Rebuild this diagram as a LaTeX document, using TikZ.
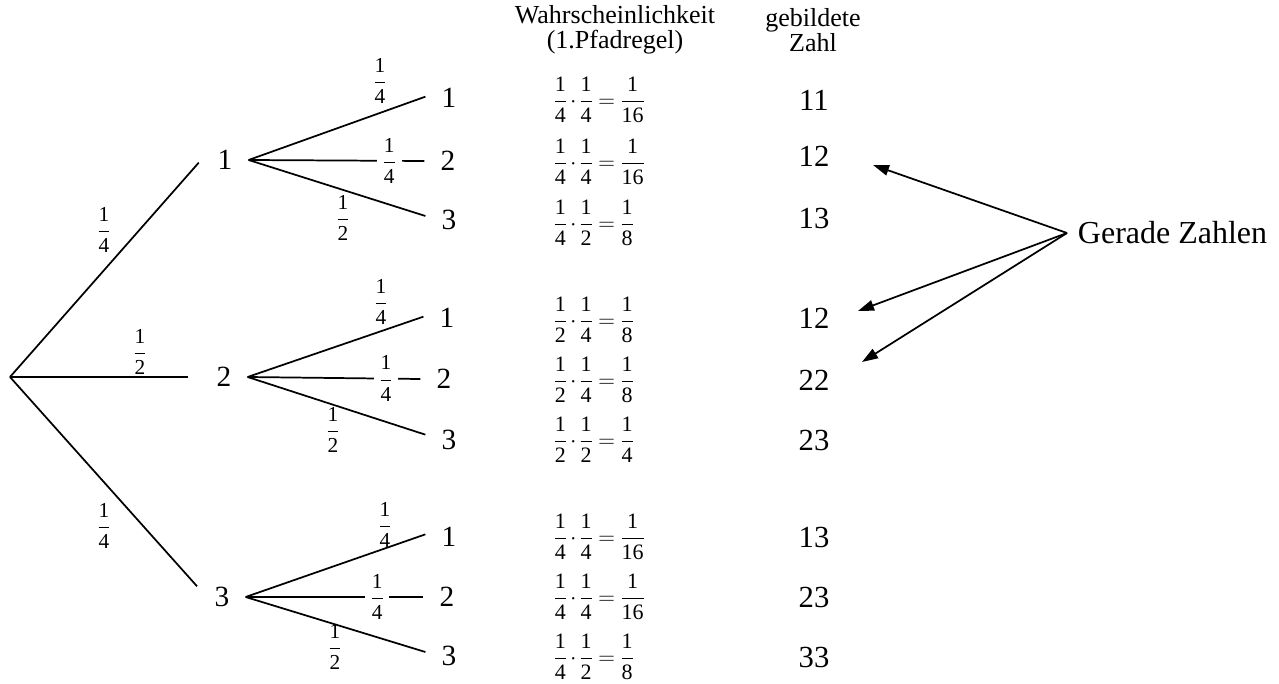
\documentclass[tikz,border=0pt]{standalone}
\usepackage{fontspec}
\setmainfont{Liberation Serif}
\usetikzlibrary{arrows.meta}
\newcommand\fr[2]{{\displaystyle\frac{\hbox{#1}}{\hbox{#2}}}}
\newcommand\prob[3]{$\medmuskip=2mu\thickmuskip=4mu\fr1{#1}\cdot\fr1{#2}=\fr1{#3}$}
\tikzset{
  lvl/.style={font=\fontsize{22}{24}\selectfont, inner ysep=0pt, inner xsep=12pt},
  num/.style={font=\fontsize{23}{25}\selectfont, inner sep=0pt},
  lbl/.style={font=\fontsize{16}{18}\selectfont, inner sep=1pt},
  midlbl/.style={font=\fontsize{16}{18}\selectfont, fill=white, inner xsep=4pt, inner ysep=0pt},
  expr/.style={font=\fontsize{16.5}{18}\selectfont, inner sep=0pt, anchor=west},
  head/.style={font=\fontsize{19.5}{18.5}\selectfont, align=center, inner sep=0pt},
  br/.style={line width=1.3pt},
  arr/.style={line width=1.3pt, -{Triangle[length=12pt,width=8pt]}},
}
\begin{document}
\begin{tikzpicture}[x=0.75pt,y=-0.75pt]
\useasboundingbox (0,0) rectangle (1279,684);
% root and level 1
\coordinate (root) at (10,377);
\node[lvl] (a1) at (225,160) {1};
\node[lvl] (a2) at (224,377) {2};
\node[lvl] (a3) at (222,597) {3};
\draw[br] (root) -- ([xshift=-2pt,yshift=-2pt]a1.west);
\draw[br] (root) -- ([xshift=-9pt]a2.west);
\draw[br] (root) -- ([xshift=-1pt,yshift=8pt]a3.west);
\node[lbl] (la1) at (104,230) {$\fr14$};
\node[lbl] (la2) at (140,352) {$\fr12$};
\node[lbl] (la3) at (104,526) {$\fr14$};
% group 1
\node[lvl] (b11) at (449,98) {1};
\node[lvl] (b12) at (448,161) {2};
\node[lvl] (b13) at (449,220) {3};
\draw[br] (a1.east) -- ([yshift=1pt]b11.west);
\draw[br] (a1.east) -- (b12.west) node[midlbl,pos=0.80] (m1) {$\fr14$};
\draw[br] (a1.east) -- ([yshift=3pt]b13.west);
\node[lbl] (lb11) at (380,81) {$\fr14$};
\node[lbl] (lb13) at (343,218) {$\fr12$};
% group 2
\node[lvl] (b21) at (447,318) {1};
\node[lvl] (b22) at (444,379) {2};
\node[lvl] (b23) at (449,440) {3};
\draw[br] (a2.east) -- ([yshift=1pt]b21.west);
\draw[br] (a2.east) -- (b22.west) node[midlbl,pos=0.80] (m2) {$\fr14$};
\draw[br] (a2.east) -- ([yshift=4pt]b23.west);
\node[lbl] (lb21) at (381,302) {$\fr14$};
\node[lbl] (lb23) at (333,430) {$\fr12$};
% group 3
\node[lvl] (b31) at (449,537) {1};
\node[lvl] (b32) at (447,597) {2};
\node[lvl] (b33) at (449,656) {3};
\draw[br] (a3.east) -- ([yshift=2pt]b31.west);
\draw[br] (a3.east) -- (b32.west) node[midlbl,pos=0.74] (m3) {$\fr14$};
\draw[br] (a3.east) -- ([yshift=3pt]b33.west);
\node[lbl] (lb31) at (385,525) {$\fr14$};
\node[lbl] (lb33) at (335,647) {$\fr12$};
% headers
\node[head] (h1) at (615,30) {Wahrscheinlichkeit\\(1.Pfadregel)};
\node[head] (h2) at (813,30) {gebildete\\Zahl};
% probability column
\node[expr] (p1) at (553,100) {\prob44{16}};
\node[expr] (p2) at (553,162) {\prob44{16}};
\node[expr] (p3) at (553,223) {\prob428};
\node[expr] (p4) at (553,320) {\prob248};
\node[expr] (p5) at (553,380) {\prob248};
\node[expr] (p6) at (553,440) {\prob224};
\node[expr] (p7) at (553,537) {\prob44{16}};
\node[expr] (p8) at (553,597) {\prob44{16}};
\node[expr] (p9) at (553,657) {\prob428};
% numbers column
\node[num] (z1) at (814,100) {11};
\node[num] (z2) at (814,156) {12};
\node[num] (z3) at (814,218) {13};
\node[num] (z4) at (814,318) {12};
\node[num] (z5) at (814,380) {22};
\node[num] (z6) at (814,440) {23};
\node[num] (z7) at (814,537) {13};
\node[num] (z8) at (814,597) {23};
\node[num] (z9) at (814,657) {33};
% Gerade Zahlen
\node[font=\fontsize{24}{28}\selectfont, anchor=west, inner xsep=8pt, inner ysep=0pt] (gz) at (1067,233) {Gerade Zahlen};
\coordinate (t1) at (873,165);
\coordinate (t2) at (858,311);
\coordinate (t3) at (862,362);
\draw[arr] (gz.west) -- (t1);
\draw[arr] (gz.west) -- (t2);
\draw[arr] (gz.west) -- (t3);
\end{tikzpicture}
\end{document}
